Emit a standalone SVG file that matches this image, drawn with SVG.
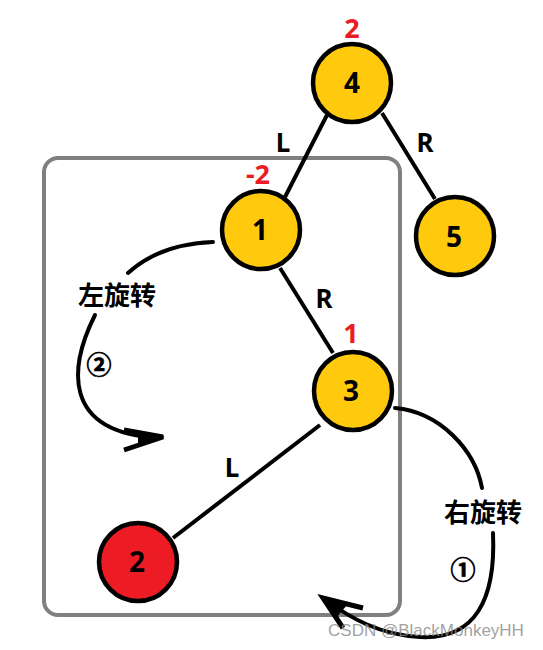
<svg xmlns="http://www.w3.org/2000/svg" width="543" height="650" viewBox="0 0 543 650">
<style>
.node{stroke:#000;stroke-width:4.5}
.y{fill:#FFC90E}
.r{fill:#ED1C24}
.num{font-family:"Noto Sans","Liberation Sans",sans-serif;font-weight:bold;font-size:28px;fill:#000;text-anchor:middle}
.bal{font-family:"Noto Sans","Liberation Sans",sans-serif;font-weight:bold;font-size:27px;fill:#ED1C24;text-anchor:middle}
.lbl{font-family:"Noto Sans","Liberation Sans",sans-serif;font-weight:bold;font-size:26px;fill:#000;text-anchor:middle}
.cn{font-family:"Noto Sans CJK SC",sans-serif;font-weight:bold;font-size:26px;fill:#000;text-anchor:middle}
.circ{font-family:"Noto Sans CJK SC",sans-serif;font-weight:bold;font-size:25px;fill:#000;stroke:#000;stroke-width:0.7;text-anchor:middle}
.edge{stroke:#000;stroke-width:4;fill:none}
.arc{stroke:#000;stroke-width:4;fill:none;stroke-linecap:round}
</style>
<rect x="44" y="158" width="356" height="457" rx="14" ry="14" fill="none" stroke="#808080" stroke-width="4"/>
<g id="connectors">
<line class="edge" x1="327" y1="115" x2="285" y2="197"/>
<line class="edge" x1="382" y1="113" x2="435" y2="199"/>
<line class="edge" x1="280" y1="268" x2="333" y2="353"/>
<line class="edge" x1="320" y1="425" x2="173" y2="538"/>
<path class="arc" d="M213,242 Q160,244 128,273"/>
<path class="arc" d="M95,315 C70,365 60,432 158,438"/>
<path d="M124,430 L163,437 L124,450" fill="none" stroke="#000" stroke-width="5" stroke-linejoin="miter"/>
<path d="M138,431 L165,437 L138,446 Z" fill="#000"/>
<path class="arc" d="M395,408 C440,412 475,450 482,488"/>
<path class="arc" d="M493,533 C496,600 475,640 420,637 C380,635 350,618 326,600"/>
<path d="M363,608 L323,598 L343,628" fill="none" stroke="#000" stroke-width="5"/>
<path d="M323,598 L347,605 L337,617 Z" fill="#000"/>
</g>
<g id="n4"><circle class="node y" cx="352" cy="83" r="39"/><text class="num" x="352" y="93">4</text></g>
<g id="n1"><circle class="node y" cx="261" cy="230" r="39"/><text class="num" x="260" y="240">1</text></g>
<g id="n5"><circle class="node y" cx="455" cy="236" r="39"/><text class="num" x="454" y="247">5</text></g>
<g id="n3"><circle class="node y" cx="353" cy="391" r="39"/><text class="num" x="351" y="401">3</text></g>
<g id="n2"><circle class="node r" cx="138" cy="562" r="39"/><text class="num" x="137" y="572">2</text></g>
<text class="bal" x="352" y="38">2</text>
<text class="bal" x="258" y="184">-2</text>
<text class="bal" x="351" y="343">1</text>
<text class="lbl" x="283" y="152">L</text>
<text class="lbl" x="425" y="152">R</text>
<text class="lbl" x="324" y="308">R</text>
<text class="lbl" x="232" y="477">L</text>
<text class="cn" x="117" y="305">左旋转</text>
<text class="cn" x="483" y="522">右旋转</text>
<text class="circ" x="99" y="374">②</text>
<text class="circ" x="463" y="579">①</text>
<text x="426" y="636" font-family="Liberation Sans,sans-serif" font-size="17" fill="#888" fill-opacity="0.8" text-anchor="middle">CSDN @BlackMonkeyHH</text>
</svg>
